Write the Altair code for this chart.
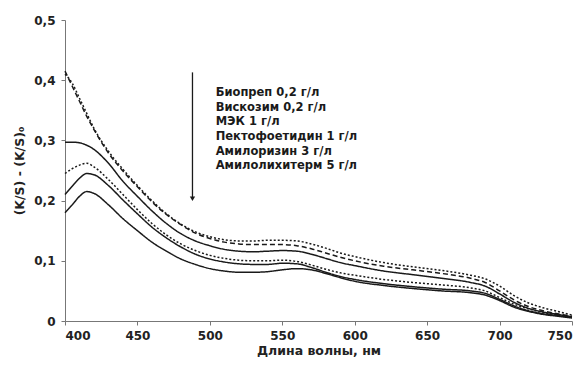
import altair as alt
import pandas as pd

wl = [400, 405, 410, 415, 420, 430, 440, 450, 460, 470, 480, 490, 500, 510, 520, 530, 540,
      550, 560, 570, 580, 590, 600, 620, 640, 660, 680, 690, 700, 710, 720, 730, 740, 750]

s_biop = [.415, .39, .365, .34, .318, .279, .249, .223, .198, .177, .160, .146, .137, .131, .128, .127, .127,
          .127, .125, .120, .113, .106, .100, .091, .085, .079, .071, .064, .050, .035, .024, .017, .012, .008]
s_visk = [.410, .395, .370, .345, .320, .282, .252, .225, .200, .178, .161, .148, .140, .135, .133, .133, .134,
          .134, .133, .128, .121, .113, .107, .097, .090, .084, .076, .070, .058, .042, .030, .022, .016, .010]
s_mek = [.297, .297, .296, .292, .285, .262, .232, .207, .183, .162, .145, .133, .125, .119, .116, .115, .116,
         .117, .116, .111, .104, .097, .092, .083, .077, .071, .064, .058, .045, .031, .021, .015, .011, .007]
s_pekt = [.245, .253, .259, .262, .256, .235, .210, .185, .162, .143, .128, .117, .109, .104, .101, .100, .100,
          .101, .099, .093, .086, .080, .076, .069, .064, .060, .055, .050, .039, .028, .020, .014, .010, .006]
s_amr = [.210, .224, .237, .245, .243, .225, .201, .178, .156, .138, .123, .111, .103, .098, .095, .094, .094,
         .096, .095, .089, .081, .074, .069, .062, .057, .053, .050, .046, .036, .025, .017, .012, .009, .006]
s_aml = [.180, .193, .207, .215, .212, .193, .170, .150, .131, .116, .103, .094, .087, .083, .081, .081, .082,
         .085, .087, .085, .079, .072, .066, .059, .054, .050, .047, .043, .034, .023, .016, .011, .008, .005]

names = ["Биопреп 0,2 г/л", "Вискозим 0,2 г/л", "МЭК 1 г/л",
         "Пектофоетидин 1 г/л", "Амилоризин 3 г/л", "Амилолихитерм 5 г/л"]
series = [s_biop, s_visk, s_mek, s_pekt, s_amr, s_aml]
dashes = [[5, 3], [2, 2], [1, 0], [2, 2], [1, 0], [1, 0]]

# annotation data
arrow_x = [488]
arrow_top = [0.413]
arrow_bottom = [0.203]
label_x = [504]
label_y = [0.378, 0.353, 0.330, 0.306, 0.281, 0.257]

rows = []
for n, s in zip(names, series):
    for x, y in zip(wl, s):
        rows.append({"wl": x, "v": y, "series": n})
df = pd.DataFrame(rows)

FONT = "DejaVu Sans"
xscale = alt.Scale(domain=[400, 750], nice=False, zero=False)
yscale = alt.Scale(domain=[0, 0.5], nice=False)

lines = alt.Chart(df).mark_line(strokeWidth=1.5, color="#1a1a1a", interpolate="monotone").encode(
    x=alt.X("wl:Q", scale=xscale,
            axis=alt.Axis(title="Длина волны, нм", values=list(range(400, 751, 50)),
                          format="d", grid=False, tickSize=4, labelPadding=5, titlePadding=3)),
    y=alt.Y("v:Q", scale=yscale,
            axis=alt.Axis(title="(K/S) - (K/S)₀", values=[0, 0.1, 0.2, 0.3, 0.4, 0.5],
                          labelExpr="datum.value == 0 ? '0' : replace(format(datum.value, '.1f'), '.', ',')",
                          grid=False, tickSize=4, labelPadding=6, titlePadding=7)),
    strokeDash=alt.StrokeDash("series:N", scale=alt.Scale(domain=names, range=dashes), legend=None),
    detail="series:N",
)

adf = pd.DataFrame({"x": arrow_x, "y1": arrow_top, "y2": arrow_bottom})
arrow = alt.Chart(adf).mark_rule(color="#1a1a1a", strokeWidth=1.3).encode(
    x="x:Q", y="y1:Q", y2="y2:Q")
head = alt.Chart(adf).mark_point(shape="triangle-down", filled=True, color="#1a1a1a",
                                 size=28, opacity=1).encode(x="x:Q", y="y2:Q")

tdf = pd.DataFrame({"x": label_x * len(names), "y": label_y, "t": names})
texts = alt.Chart(tdf).mark_text(align="left", baseline="middle", font=FONT, fontWeight="bold",
                                 fontSize=11.5, color="#1a1a1a").encode(
    x="x:Q", y="y:Q", text="t:N")

chart = alt.layer(lines, arrow, head, texts).properties(
    width=507, height=301,
    autosize=alt.AutoSizeParams(type="none"),
    padding={"left": 65, "top": 20, "right": 14, "bottom": 44},
    background="white",
).configure_view(stroke=None).configure_axis(
    labelFont=FONT, labelFontWeight="bold", labelFontSize=12, labelColor="#222",
    titleFont=FONT, titleFontWeight="bold", titleFontSize=12.5, titleColor="#222",
    domainColor="#777", tickColor="#777",
)

chart.save("out.html", embed_options={"renderer": "svg", "actions": False})
